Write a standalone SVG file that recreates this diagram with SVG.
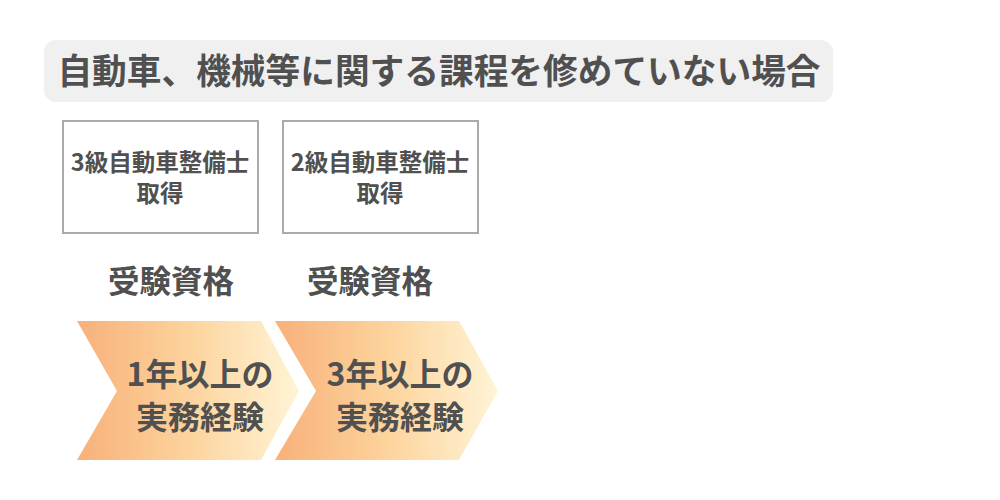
<svg xmlns="http://www.w3.org/2000/svg" width="1000" height="500" viewBox="0 0 1000 500">
<defs>
<linearGradient id="chev" x1="0" y1="0" x2="1" y2="0">
<stop offset="0" stop-color="#F8B07A"/>
<stop offset="0.5" stop-color="#FDD39C"/>
<stop offset="1" stop-color="#FFF4D6"/>
</linearGradient>
<style>
text{font-family:"Noto Sans CJK JP","Noto Sans",sans-serif;font-weight:700;fill:#505050;text-anchor:middle}
.box{fill:#FFFFFF;stroke:#AAAAAA;stroke-width:2}
.sm{font-size:23.5px}
.lbl{font-size:31.5px}
.chv{font-size:32px}
</style>
</defs>
<rect width="1000" height="500" fill="#FFFFFF"/>
<g id="title">
<rect x="44" y="40" width="789" height="62" rx="12" fill="#F0F0F0"/>
<text x="439" y="84" style="font-size:34.7px">自動車、機械等に関する課程を修めていない場合</text>
</g>
<g id="box3">
<rect class="box" x="63" y="121" width="195" height="112"/>
<text class="sm" x="160" y="171">3級自動車整備士</text>
<text class="sm" x="160" y="202">取得</text>
</g>
<g id="box2">
<rect class="box" x="283" y="121" width="195" height="112"/>
<text class="sm" x="380" y="171">2級自動車整備士</text>
<text class="sm" x="380" y="202">取得</text>
</g>
<g id="label1"><text class="lbl" x="171" y="293">受験資格</text></g>
<g id="label2"><text class="lbl" x="370" y="293">受験資格</text></g>
<g id="chevron1">
<polygon points="77,321 261,321 299,391 261,460 77,460 117,391" fill="url(#chev)"/>
<text class="chv" x="200" y="386">1年以上の</text>
<text class="chv" x="200" y="429">実務経験</text>
</g>
<g id="chevron2">
<polygon points="275,321 459,321 498,391 459,460 275,460 316,391" fill="url(#chev)"/>
<text class="chv" x="400" y="386">3年以上の</text>
<text class="chv" x="400" y="429">実務経験</text>
</g>
<g id="connectors"></g>
</svg>
